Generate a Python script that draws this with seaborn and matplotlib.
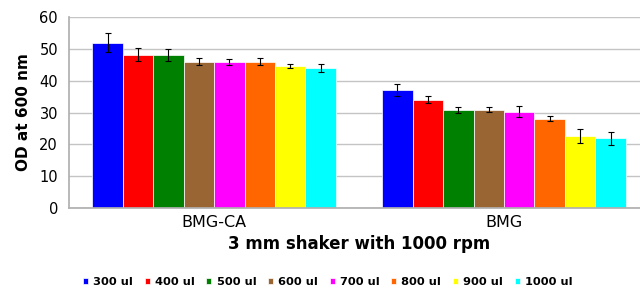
import matplotlib
matplotlib.use("Agg")
import matplotlib.pyplot as plt
import pandas as pd
import seaborn as sns

groups = ["BMG-CA", "BMG"]
volumes = ["300 ul", "400 ul", "500 ul", "600 ul", "700 ul", "800 ul", "900 ul", "1000 ul"]
colors = ["#0000ff", "#ff0000", "#008000", "#996633", "#ff00ff", "#ff6600", "#ffff00", "#00ffff"]

od_bmg_ca = [52.0, 48.2, 48.1, 46.0, 46.0, 46.0, 44.6, 44.1]
err_bmg_ca = [3.0, 2.0, 2.0, 1.0, 0.9, 1.0, 0.6, 1.2]
od_bmg = [37.1, 34.0, 30.9, 30.9, 30.3, 28.0, 22.7, 21.9]
err_bmg = [2.0, 1.1, 0.9, 0.8, 1.6, 0.8, 2.2, 2.0]

df = pd.DataFrame({
    "Group": [groups[0]] * 8 + [groups[1]] * 8,
    "Volume": volumes * 2,
    "OD": od_bmg_ca + od_bmg,
    "Err": err_bmg_ca + err_bmg,
})

sns.set_theme(style="white")
plt.rcParams["font.family"] = ["DejaVu Sans"]
plt.rcParams.update({"text.color": "black", "axes.labelcolor": "black",
                     "xtick.labelcolor": "black", "ytick.labelcolor": "black"})

fig, ax = plt.subplots(figsize=(6.4, 2.95), dpi=100)
sns.barplot(data=df, x="Group", y="OD", hue="Volume", order=groups, hue_order=volumes,
            palette=colors, errorbar=None, width=0.84, edgecolor="white", linewidth=0.5,
            saturation=1, ax=ax)

# seaborn draws bars hue by hue, each hue across the groups
bars = ax.patches[:len(df)]
i = 0
for v in volumes:
    for g in groups:
        r = df[(df["Volume"] == v) & (df["Group"] == g)].iloc[0]
        p = bars[i]
        ax.errorbar(p.get_x() + p.get_width() / 2, r["OD"], yerr=r["Err"], fmt="none",
                    ecolor="black", elinewidth=0.8, capsize=2, capthick=0.8)
        i += 1

ax.set_ylim(0, 60)
ax.set_yticks(range(0, 61, 10))
ax.set_xlim(-0.5, 1.5)
ax.yaxis.grid(True, color="#c4c4c4", linewidth=1)
ax.set_axisbelow(True)
for s in ["top", "right"]:
    ax.spines[s].set_visible(False)
for s in ["left", "bottom"]:
    ax.spines[s].set_color("#b0b0b0")
ax.tick_params(axis="y", length=3, color="#b0b0b0", labelcolor="black", labelsize=10.5, pad=5)
ax.tick_params(axis="x", length=0, labelcolor="black", labelsize=11.5, pad=5)
ax.set_ylabel("OD at 600 nm", fontsize=11, fontweight="bold", labelpad=6, color="black")
ax.set_xlabel("3 mm shaker with 1000 rpm", fontsize=12, fontweight="bold", color="black")
ax.xaxis.set_label_coords(0.5, -0.14)

handles, labels = ax.get_legend_handles_labels()
ax.get_legend().remove()
fig.legend(handles, labels, loc="center", bbox_to_anchor=(0.512, 0.045), ncol=8,
           frameon=False, prop={"weight": "bold", "size": 8.2}, handlelength=0.45,
           handleheight=0.45, handletextpad=0.45, columnspacing=1.02, borderpad=0,
           labelcolor="black")

fig.subplots_adjust(left=0.108, right=1.014, top=0.942, bottom=0.295)
fig.savefig("out.png", dpi=100)
